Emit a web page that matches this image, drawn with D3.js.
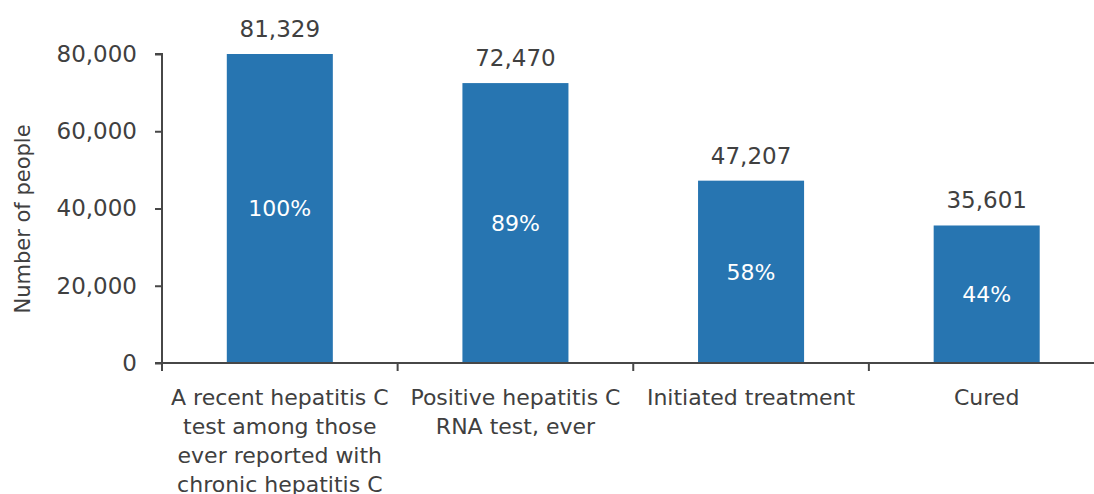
<!DOCTYPE html>
<html>
<head>
<meta charset="utf-8">
<script src="https://cdn.jsdelivr.net/npm/d3@7"></script>
<style>
  html, body { margin: 0; padding: 0; background: #fff; }
  svg { display: block; font-family: "DejaVu Sans", sans-serif; }
</style>
</head>
<body>
<svg id="chart" width="1094" height="494"></svg>
<script>
const categories = [
  ["A recent hepatitis C", "test among those", "ever reported with", "chronic hepatitis C"],
  ["Positive hepatitis C", "RNA test, ever"],
  ["Initiated treatment"],
  ["Cured"]
];
const values = [81329, 72470, 47207, 35601];
const percentLabels = ["100%", "89%", "58%", "44%"];
const yTicks = [0, 20000, 40000, 60000, 80000];
const yTitle = "Number of people";

(function () {
const svg = d3.select("#chart");
const mLeft = 162, mRight = 1104.5, mTop = 54, mBottom = 363;
const textColor = "#404040";
const axisColor = "#474747";
const barColor = "#2775B1";

const keys = categories.map((d, i) => i);
const x = d3.scaleBand().domain(keys).range([mLeft, mRight]).paddingInner(0.55).paddingOuter(0.275);
const y = d3.scaleLinear().domain([0, 80000]).range([mBottom, mTop]).clamp(true);

// bars
svg.append("g").selectAll("rect").data(values).join("rect")
  .attr("x", (d, i) => x(i))
  .attr("width", x.bandwidth())
  .attr("y", d => y(d))
  .attr("height", d => y(0) - y(d))
  .attr("fill", barColor);

// y axis
const yAxis = svg.append("g").attr("transform", `translate(${mLeft},0)`)
  .call(d3.axisLeft(y).tickValues(yTicks).tickFormat(d3.format(",")).tickSize(7).tickPadding(18));
yAxis.select(".domain").attr("stroke", axisColor).attr("stroke-width", 2)
  .attr("d", `M-7,${mTop}H0V${mBottom}`);
yAxis.selectAll(".tick line").attr("stroke", axisColor).attr("stroke-width", 2);
yAxis.selectAll(".tick text").attr("fill", textColor).attr("font-size", 23)
  .attr("font-family", "DejaVu Sans");

// x axis
const step = x.step();
const boundaries = d3.range(0, categories.length).map(i => mLeft + i * step);
const xAxis = svg.append("g");
xAxis.append("line").attr("x1", mLeft - 7).attr("x2", 1094).attr("y1", mBottom).attr("y2", mBottom)
  .attr("stroke", axisColor).attr("stroke-width", 2);
xAxis.selectAll("line.tk").data(boundaries).join("line").attr("class", "tk")
  .attr("x1", d => d).attr("x2", d => d).attr("y1", mBottom).attr("y2", mBottom + 8)
  .attr("stroke", axisColor).attr("stroke-width", 2);

// category labels
const catG = svg.append("g");
categories.forEach((lines, i) => {
  const cx = x(i) + x.bandwidth() / 2;
  const t = catG.append("text")
    .attr("x", cx)
    .attr("y", 405)
    .attr("text-anchor", "middle")
    .attr("fill", textColor)
    .attr("font-size", 22);
  lines.forEach((ln, j) => {
    t.append("tspan").attr("x", cx).attr("dy", j === 0 ? 0 : 29).text(ln);
  });
});

// value labels above bars
svg.append("g").selectAll("text").data(values).join("text")
  .attr("x", (d, i) => x(i) + x.bandwidth() / 2)
  .attr("y", d => y(d) - 17)
  .attr("text-anchor", "middle")
  .attr("fill", textColor)
  .attr("font-size", 23)
  .text(d => d3.format(",")(d));

// percent labels inside bars
svg.append("g").selectAll("text").data(values).join("text")
  .attr("x", (d, i) => x(i) + x.bandwidth() / 2)
  .attr("y", d => (y(d) + y(0)) / 2)
  .attr("dy", "0.35em")
  .attr("text-anchor", "middle")
  .attr("fill", "#ffffff")
  .attr("font-size", 22)
  .text((d, i) => percentLabels[i]);

// y title
svg.append("text")
  .attr("transform", `translate(30,219) rotate(-90)`)
  .attr("text-anchor", "middle")
  .attr("fill", textColor)
  .attr("font-size", 21)
  .text(yTitle);
})();
</script>
</body>
</html>
